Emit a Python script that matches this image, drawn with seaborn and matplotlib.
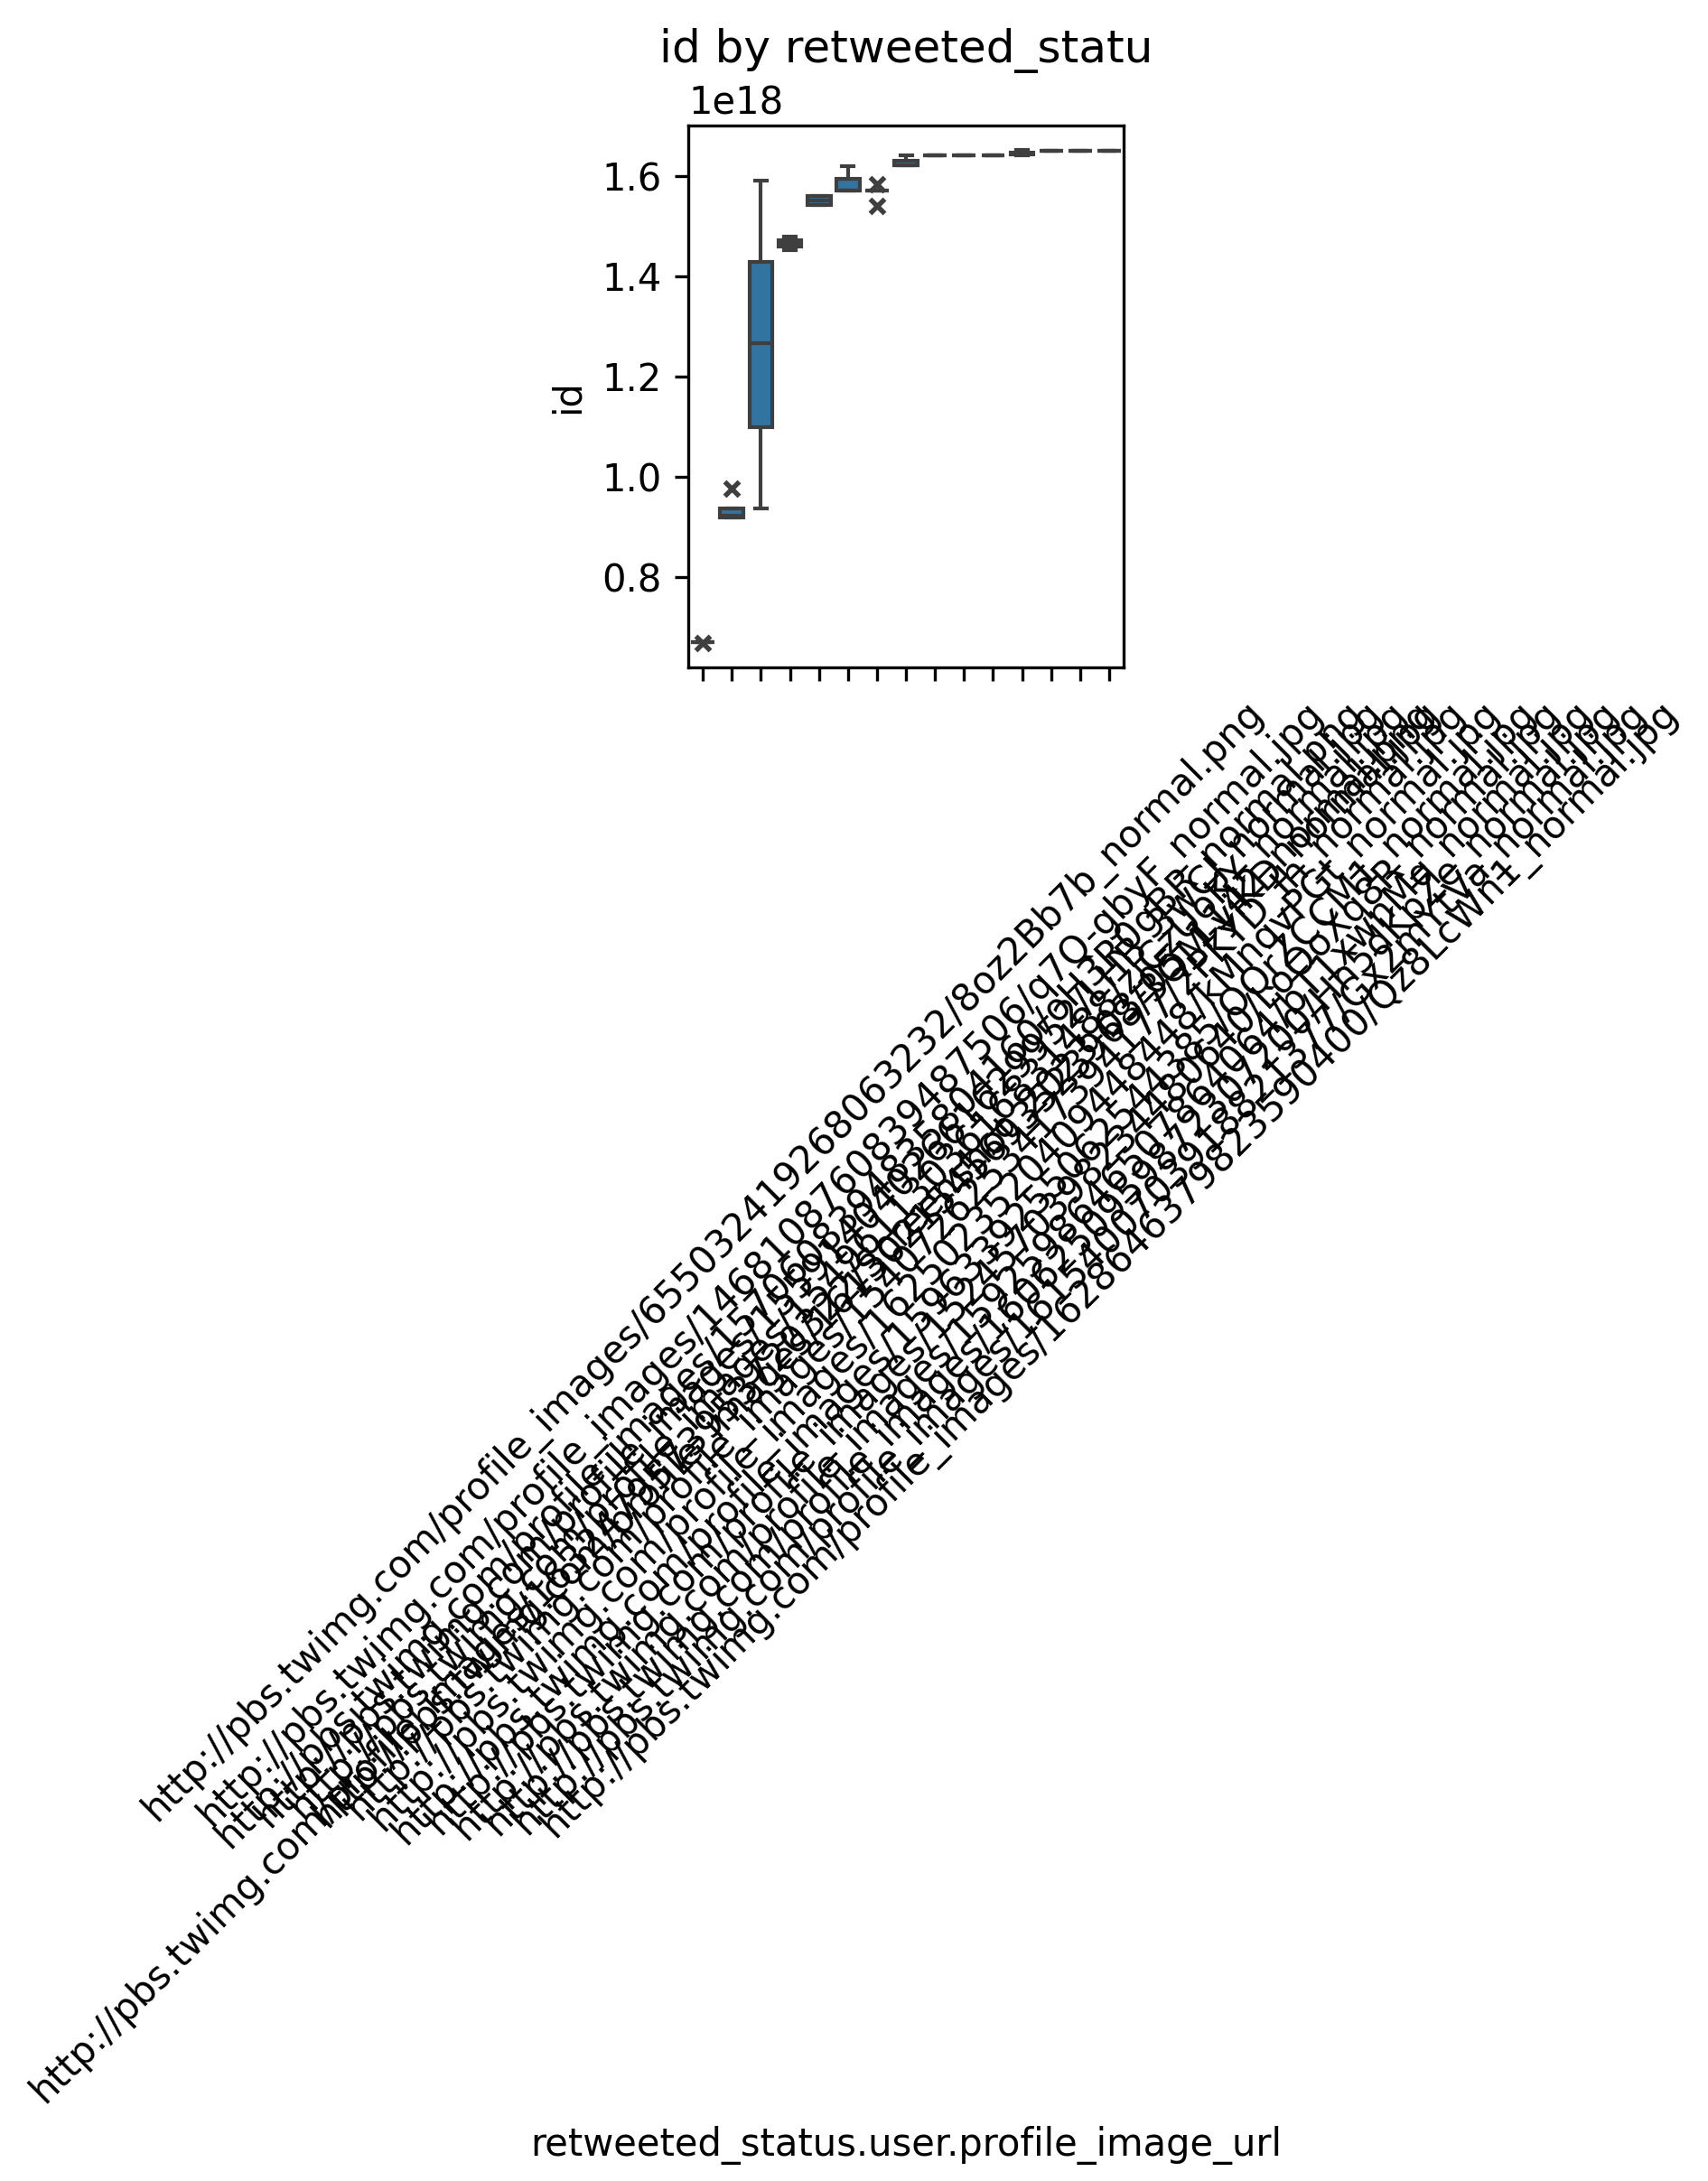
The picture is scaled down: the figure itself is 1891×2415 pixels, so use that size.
import pandas as pd
import numpy as np
import matplotlib
matplotlib.use("Agg")
import matplotlib.pyplot as plt
import seaborn as sns

# categories (profile image urls), in the order they appear on the x axis
urls = [
    "http://pbs.twimg.com/profile_images/655032419268063232/8oz2Bb7b_normal.png",
    "http://pbs.twimg.com/profile_images/1632479573953720322/Screenshot_2023-03-05_1142_normal.png",
    "http://pbs.twimg.com/profile_images/1468108760839487506/q7Q-gbyF_normal.jpg",
    "http://pbs.twimg.com/profile_images/1570608394835804160/oH3R0gBR_normal.png",
    "http://pbs.twimg.com/profile_images/1559140402661629952/LHB_3wCJ_normal.jpg",
    "http://pbs.twimg.com/profile_images/1549611303616831488/zjCzUoKY_normal.jpg",
    "http://pbs.twimg.com/profile_images/1613021545693523968/3QM-yiKD_normal.jpg",
    "http://pbs.twimg.com/profile_images/1540726253417394177/2PKYD_Ih_normal.jpg",
    "http://pbs.twimg.com/profile_images/1625023520409448448/kMnqvPGt_normal.jpg",
    "http://pbs.twimg.com/profile_images/1596339255062544385/OQrZCCM1_normal.jpg",
    "http://pbs.twimg.com/profile_images/1524570398234480640/LoOoXq8R_normal.jpg",
    "http://pbs.twimg.com/profile_images/1592598646507864064/bT1xwnMq_normal.jpg",
    "http://pbs.twimg.com/profile_images/1606250959872307200/Hn5dKpZe_normal.jpg",
    "http://pbs.twimg.com/profile_images/1615400703918821377/Gx2mYtVa_normal.jpg",
    "http://pbs.twimg.com/profile_images/1628646379823590400/Qz8LcWn1_normal.jpg",
]

# tweet ids per category, in units of 1e18
ids_e18 = [
    [0.6688, 0.6703, 0.6703, 0.6703, 0.6703],
    [0.9195, 0.9195, 0.9227, 0.9367, 0.9766],
    [0.9367, 1.0984, 1.2664, 1.4289, 1.5906],
    [1.4516, 1.4594, 1.4656, 1.4719, 1.4797],
    [1.5414, 1.5414, 1.5508, 1.5602, 1.5602],
    [1.5703, 1.5703, 1.5703, 1.5945, 1.6203],
    [1.5406, 1.5703, 1.5703, 1.5703, 1.5703, 1.5828],
    [1.6211, 1.6211, 1.6211, 1.6305, 1.6414],
    [1.6406, 1.6406],
    [1.6406, 1.6406],
    [1.6406, 1.6406],
    [1.6406, 1.6437, 1.6453, 1.6472, 1.6512],
    [1.6508, 1.6508],
    [1.6508, 1.6508],
    [1.6508, 1.6508],
]

rows = [(u, v * 1e18) for u, vals in zip(urls, ids_e18) for v in vals]
data = pd.DataFrame(rows, columns=["retweeted_status.user.profile_image_url", "id"])

fig = plt.figure(figsize=(1891 / 300, 2415 / 300), dpi=300)
ax = fig.add_axes([0.403, 0.694, 0.2549, 0.2484])

sns.boxplot(data=data, x="retweeted_status.user.profile_image_url", y="id",
            order=urls, ax=ax,
            flierprops={"marker": "x", "markersize": 4, "markeredgewidth": 1.3})
ax.set_title("id by retweeted_statu")
ax.tick_params(axis="x", rotation=45)

fig.savefig("out.png", dpi=300)
